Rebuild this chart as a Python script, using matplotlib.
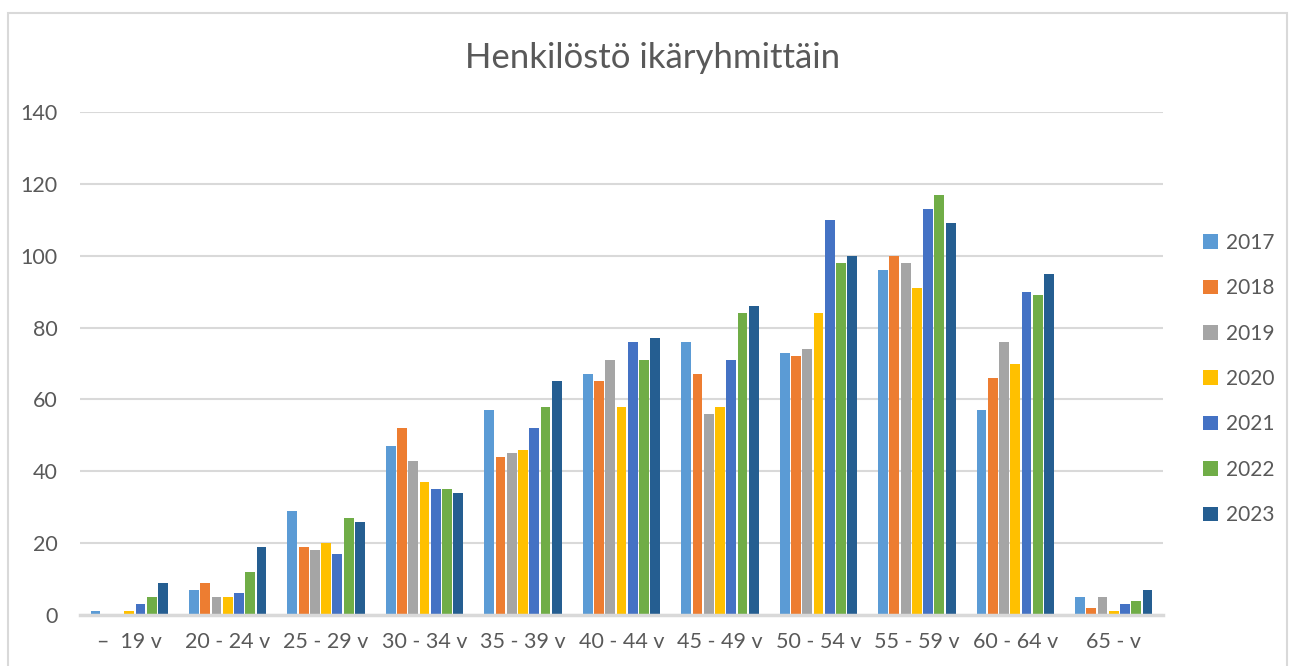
import matplotlib
matplotlib.use('Agg')
import matplotlib.pyplot as plt
import numpy as np
from matplotlib.patches import Rectangle

plt.rcParams['font.family'] = ['Lato', 'DejaVu Sans']

# ikaryhmat ja vuodet
categories = ['–  19 v', '20 - 24 v', '25 - 29 v', '30 - 34 v', '35 - 39 v',
              '40 - 44 v', '45 - 49 v', '50 - 54 v', '55 - 59 v', '60 - 64 v', '65 - v']
years = ['2017', '2018', '2019', '2020', '2021', '2022', '2023']

v2017 = [1, 7, 29, 47, 57, 67, 76, 73, 96, 57, 5]
v2018 = [0, 9, 19, 52, 44, 65, 67, 72, 100, 66, 2]
v2019 = [0, 5, 18, 43, 45, 71, 56, 74, 98, 76, 5]
v2020 = [1, 5, 20, 37, 46, 58, 58, 84, 91, 70, 1]
v2021 = [3, 6, 17, 35, 52, 76, 71, 110, 113, 90, 3]
v2022 = [5, 12, 27, 35, 58, 71, 84, 98, 117, 89, 4]
v2023 = [9, 19, 26, 34, 65, 77, 86, 100, 109, 95, 7]
series = [v2017, v2018, v2019, v2020, v2021, v2022, v2023]

colors = ['#5B9BD5', '#ED7D31', '#A5A5A5', '#FFC000', '#4472C4', '#70AD47', '#255E91']
txt = '#595959'
grid = '#D9D9D9'

fig = plt.figure(figsize=(12.91, 6.66), dpi=100)
# kehys kuten excelissa
fig.patches.append(Rectangle((8/1291, -0.1), 1279/1291, 1.1 - 13/666, transform=fig.transFigure,
                             fill=False, edgecolor=grid, linewidth=1.5))
ax = fig.add_axes([80/1291, 1 - 615/666, (1163 - 80)/1291, (615 - 112)/666])

x = np.arange(len(categories))
step = 0.8 / len(series)
for i, (vals, c, yr) in enumerate(zip(series, colors, years)):
    ax.bar(x - 0.4 + step*(i + 0.5), vals, width=step*0.87, color=c, label=yr, zorder=3)

ax.set_xlim(-0.5, len(categories) - 0.5)
ax.set_ylim(0, 140)
ax.set_yticks(np.arange(0, 141, 20))
ax.set_xticks(x)
ax.set_xticklabels(categories)
ax.tick_params(axis='both', length=0, labelsize=15.5, colors=txt)
ax.tick_params(axis='x', pad=12)
ax.tick_params(axis='y', pad=16)
for lab in ax.get_yticklabels():
    lab.set_horizontalalignment('right')
ax.yaxis.grid(True, color=grid, linewidth=1.5, zorder=0)
for s in ['top', 'right', 'left']:
    ax.spines[s].set_visible(False)
ax.spines['bottom'].set_color(grid)
ax.spines['bottom'].set_linewidth(2.5)
ax.spines['bottom'].set_zorder(4)

fig.text(653/1291, 1 - 58/666, 'Henkilöstö ikäryhmittäin', ha='center', va='center',
         fontsize=25, color=txt)

leg = ax.legend(loc='center left', bbox_to_anchor=(1193/1291, 1 - 379/666),
                bbox_transform=fig.transFigure, frameon=False, fontsize=15,
                labelcolor=txt, handlelength=0.7, handleheight=0.7,
                handletextpad=0.4, labelspacing=1.22, borderpad=0)

fig.savefig('out.png', dpi=100)
